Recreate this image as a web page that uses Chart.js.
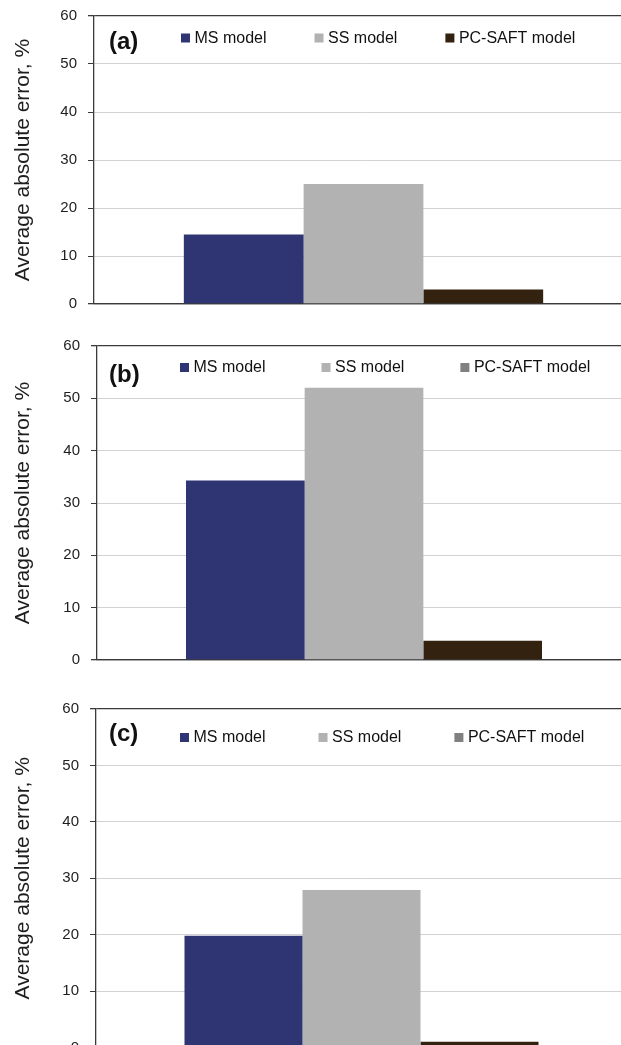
<!DOCTYPE html>
<html>
<head>
<meta charset="utf-8">
<script src="https://cdn.jsdelivr.net/npm/chart.js@4.4.1/dist/chart.umd.min.js"></script>
<style>
  html, body { margin: 0; padding: 0; background: #ffffff; width: 621px; height: 1045px; overflow: hidden; position: relative; }
  canvas { position: absolute; left: 0; }
</style>
</head>
<body>
<canvas id="chartA"></canvas>
<canvas id="chartB"></canvas>
<canvas id="chartC"></canvas>
<script>
// ---- data ----
const categories = ['Average absolute error'];
const panelLabels = ['(a)', '(b)', '(c)'];
const seriesNames = ['MS model', 'SS model', 'PC-SAFT model'];
const msValues = [14.5, 34.3, 19.8];
const ssValues = [25.0, 52.0, 27.9];
const pcsaftValues = [3.0, 3.7, 1.0];
const yTicks = [0, 10, 20, 30, 40, 50, 60];
const yTitle = 'Average absolute error, %';

// ---- styles ----
const FONT = '"Liberation Sans", Arial, Helvetica, sans-serif';
const barColors = ['#2f3473', '#b2b2b2', '#33220f'];
const legendPcColors = ['#33220f', '#808080', '#808080'];
const layouts = [
  { id: 'chartA', top: 0,   w: 633, h: 330, pt: 16, pb: 26,   axisW: 94, legDx: 87, legDy: 22,   legGap: 48, labDx: 15, labDy: 26 },
  { id: 'chartB', top: 330, w: 631, h: 345, pt: 16, pb: 15,   axisW: 97, legDx: 83, legDy: 21.5, legGap: 56, labDx: 12, labDy: 29 },
  { id: 'chartC', top: 690, w: 627, h: 375, pt: 19, pb: 17.5, axisW: 96, legDx: 84, legDy: 28.5, legGap: 53, labDx: 13, labDy: 25 }
];

const panelDecor = {
  id: 'panelDecor',
  afterDraw(chart, args, opts) {
    const { ctx, chartArea } = chart;
    ctx.save();
    ctx.textBaseline = 'middle';
    ctx.textAlign = 'left';
    ctx.fillStyle = '#111111';
    ctx.font = 'bold 24px ' + FONT;
    ctx.fillText(opts.label, chartArea.left + opts.labDx, chartArea.top + opts.labDy);
    ctx.font = '16px ' + FONT;
    let x = chartArea.left + opts.legDx;
    const y = chartArea.top + opts.legDy;
    chart.data.datasets.forEach((ds) => {
      ctx.fillStyle = ds.legendColor || ds.backgroundColor;
      ctx.fillRect(x, y - 4.5, 9, 9);
      ctx.fillStyle = '#111111';
      ctx.fillText(ds.label, x + 13.5, y + 0.5);
      x += 13.5 + ctx.measureText(ds.label).width + opts.legGap;
    });
    ctx.restore();
  }
};

const seriesValues = [msValues, ssValues, pcsaftValues];

layouts.forEach((L, p) => {
  const cv = document.getElementById(L.id);
  cv.width = L.w; cv.height = L.h;
  cv.style.top = L.top + 'px';
  cv.style.width = L.w + 'px'; cv.style.height = L.h + 'px';
  const datasets = seriesNames.map((name, s) => ({
    label: name,
    data: [seriesValues[s][p]],
    backgroundColor: barColors[s],
    legendColor: s === 2 ? legendPcColors[p] : barColors[s],
    borderWidth: 0,
    categoryPercentage: 2 / 3,
    barPercentage: 1.0
  }));
  new Chart(cv, {
    type: 'bar',
    data: { labels: categories, datasets },
    plugins: [panelDecor],
    options: {
      responsive: false,
      animation: false,
      devicePixelRatio: 1,
      layout: { padding: { top: L.pt, bottom: L.pb, left: 0, right: 0 } },
      plugins: {
        legend: { display: false },
        tooltip: { enabled: false },
        panelDecor: { label: panelLabels[p], labDx: L.labDx, labDy: L.labDy, legDx: L.legDx, legDy: L.legDy, legGap: L.legGap }
      },
      scales: {
        x: {
          type: 'category',
          grid: { display: true, drawOnChartArea: false, drawTicks: false },
          ticks: { display: false },
          border: { display: true, color: '#3a3a3a', width: 1.3 }
        },
        y: {
          min: yTicks[0],
          max: yTicks[yTicks.length - 1],
          afterBuildTicks: (scale) => { scale.ticks = yTicks.map(v => ({ value: v })); },
          afterFit: (scale) => { scale.width = L.axisW; scale.paddingTop = 8; scale.paddingBottom = 8; },
          ticks: {
            padding: 11,
            color: '#1e1e1e',
            font: { family: FONT, size: 15 }
          },
          grid: {
            color: (c) => (c.tick && (c.tick.value === yTicks[yTicks.length - 1] || c.tick.value === yTicks[0])) ? '#3a3a3a' : '#d2d2d2',
            lineWidth: (c) => (c.tick && (c.tick.value === yTicks[yTicks.length - 1] || c.tick.value === yTicks[0])) ? 1.3 : 1,
            tickColor: '#3a3a3a',
            tickLength: 6
          },
          border: { display: true, color: '#3a3a3a', width: 1.3 },
          title: {
            display: true,
            text: yTitle,
            color: '#1e1e1e',
            font: { family: FONT, size: 21 },
            padding: { top: 11, bottom: 0 }
          }
        }
      }
    }
  });
});
</script>
</body>
</html>
